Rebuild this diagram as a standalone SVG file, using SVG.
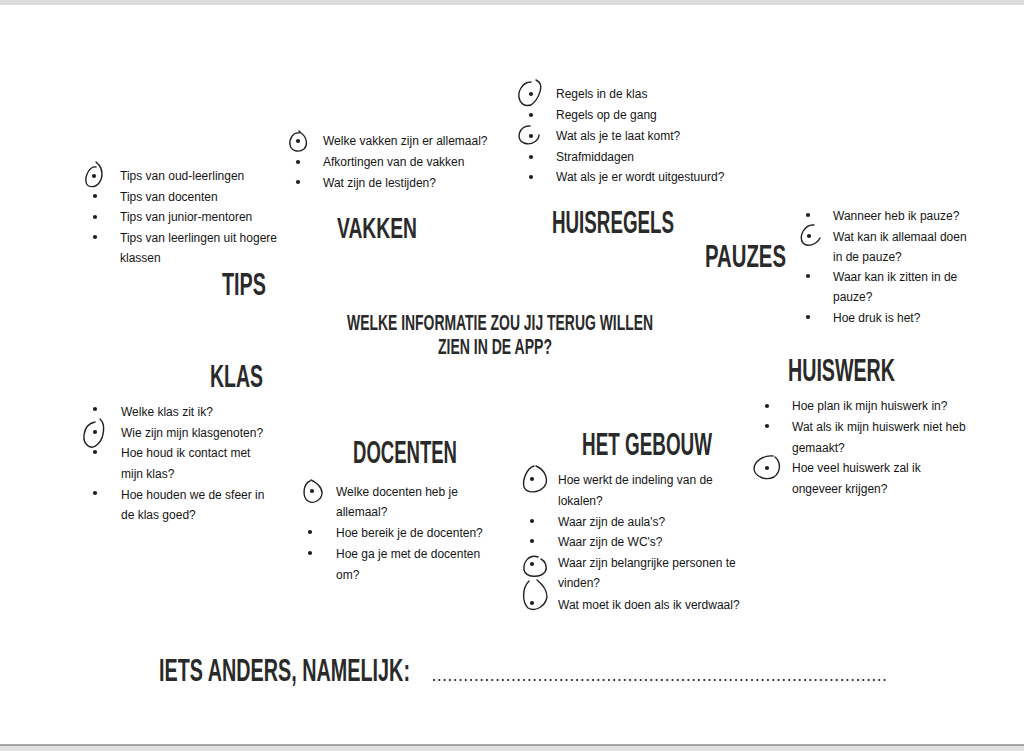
<svg xmlns="http://www.w3.org/2000/svg" width="1024" height="751" viewBox="0 0 1024 751">
<style>
.t{font-family:"Liberation Sans",Arial,Helvetica,sans-serif;font-size:12px;fill:#151515}
.h{font-family:"Liberation Sans",Arial,Helvetica,sans-serif;font-weight:bold;font-size:32px;fill:#2a2a2a}
.q{font-family:"Liberation Sans",Arial,Helvetica,sans-serif;font-weight:bold;font-size:22px;fill:#2a2a2a}
.ring{fill:none;stroke:#222;stroke-width:1.4;stroke-linecap:round}
.b{fill:#1f1f1f}
</style>
<defs>
<circle id="dot" r="2.1"/>
</defs>
<rect x="0" y="0" width="1024" height="751" fill="#ffffff"/>
<rect x="0" y="0" width="1024" height="5" fill="#dcdcdc"/>
<rect x="0" y="745.5" width="1024" height="5.5" fill="#e2e2e2"/>
<line x1="0" y1="745" x2="1024" y2="745" stroke="#555" stroke-width="1.2"/>
<g id="connectors"/>

<g id="question">
<text class="q" x="347" y="330" textLength="306" lengthAdjust="spacingAndGlyphs">WELKE INFORMATIE ZOU JIJ TERUG WILLEN</text>
<text class="q" x="438" y="354" textLength="114" lengthAdjust="spacingAndGlyphs">ZIEN IN DE APP?</text>
</g>

<g id="tips">
<text class="h" x="222" y="295" textLength="44" lengthAdjust="spacingAndGlyphs">TIPS</text>
<path class="ring" d="M96,167 C90,166 85,175 86,182 C87,188 95,188 99,183 C103,178 103,170 99,165 L96,162"/>
<use href="#dot" class="b" x="94" y="176"/>
<use href="#dot" class="b" x="95" y="196"/>
<use href="#dot" class="b" x="95" y="217"/>
<use href="#dot" class="b" x="95" y="237"/>
<text class="t" x="120" y="180">Tips van oud-leerlingen</text>
<text class="t" x="120" y="200.5">Tips van docenten</text>
<text class="t" x="120" y="221">Tips van junior-mentoren</text>
<text class="t" x="120" y="241.5">Tips van leerlingen uit hogere</text>
<text class="t" x="120" y="262">klassen</text>
</g>

<g id="vakken">
<text class="h" x="337" y="238" textLength="80" lengthAdjust="spacingAndGlyphs" style="font-size:29px">VAKKEN</text>
<path class="ring" d="M299,133 C293,132 289,139 290,145 C291,151 299,153 304,149 C308,145 307,137 301,133 L299,131"/>
<use href="#dot" class="b" x="298" y="141"/>
<use href="#dot" class="b" x="298" y="162"/>
<use href="#dot" class="b" x="298" y="182"/>
<text class="t" x="323" y="145">Welke vakken zijn er allemaal?</text>
<text class="t" x="323" y="166">Afkortingen van de vakken</text>
<text class="t" x="323" y="187">Wat zijn de lestijden?</text>
</g>

<g id="huisregels">
<text class="h" x="552" y="233" textLength="122" lengthAdjust="spacingAndGlyphs">HUISREGELS</text>
<path class="ring" d="M536,80 C546,84 538,100 531,105 C520,108 516,96 521,88 C524,83 528,82 531,82"/>
<use href="#dot" class="b" x="531" y="94"/>
<use href="#dot" class="b" x="531" y="115"/>
<path class="ring" d="M530,126 C519,125 515,140 524,143 C532,146 539,140 539,135"/>
<use href="#dot" class="b" x="531" y="136"/>
<use href="#dot" class="b" x="531" y="157"/>
<use href="#dot" class="b" x="531" y="177"/>
<text class="t" x="556" y="98">Regels in de klas</text>
<text class="t" x="556" y="119">Regels op de gang</text>
<text class="t" x="556" y="140">Wat als je te laat komt?</text>
<text class="t" x="556" y="161">Strafmiddagen</text>
<text class="t" x="556" y="181">Wat als je er wordt uitgestuurd?</text>
</g>

<g id="pauzes">
<text class="h" x="705" y="267" textLength="81" lengthAdjust="spacingAndGlyphs">PAUZES</text>
<use href="#dot" class="b" x="808" y="215"/>
<path class="ring" d="M814,225 C805,224 798,236 803,243 C808,248 817,244 820,238"/>
<use href="#dot" class="b" x="809" y="236"/>
<use href="#dot" class="b" x="808" y="276"/>
<use href="#dot" class="b" x="808" y="317"/>
<text class="t" x="833" y="220">Wanneer heb ik pauze?</text>
<text class="t" x="833" y="241">Wat kan ik allemaal doen</text>
<text class="t" x="833" y="261">in de pauze?</text>
<text class="t" x="833" y="281">Waar kan ik zitten in de</text>
<text class="t" x="833" y="301">pauze?</text>
<text class="t" x="833" y="322">Hoe druk is het?</text>
</g>

<g id="klas">
<text class="h" x="210" y="387" textLength="53" lengthAdjust="spacingAndGlyphs">KLAS</text>
<use href="#dot" class="b" x="95" y="409"/>
<path class="ring" d="M100,419 C106,424 104,438 98,444 C91,451 83,445 84,435 C85,427 90,423 95,422"/>
<use href="#dot" class="b" x="95" y="432"/>
<use href="#dot" class="b" x="95" y="452"/>
<use href="#dot" class="b" x="95" y="493"/>
<text class="t" x="121" y="416">Welke klas zit ik?</text>
<text class="t" x="121" y="437">Wie zijn mijn klasgenoten?</text>
<text class="t" x="121" y="457">Hoe houd ik contact met</text>
<text class="t" x="121" y="478">mijn klas?</text>
<text class="t" x="121" y="499">Hoe houden we de sfeer in</text>
<text class="t" x="121" y="519">de klas goed?</text>
</g>

<g id="docenten">
<text class="h" x="353" y="463" textLength="104" lengthAdjust="spacingAndGlyphs">DOCENTEN</text>
<path class="ring" d="M310,481 C303,484 302,497 308,501 C314,505 322,499 322,493 C322,487 316,482 311,480"/>
<use href="#dot" class="b" x="312" y="491"/>
<use href="#dot" class="b" x="310" y="532"/>
<use href="#dot" class="b" x="310" y="553"/>
<text class="t" x="336" y="496">Welke docenten heb je</text>
<text class="t" x="336" y="516">allemaal?</text>
<text class="t" x="336" y="537">Hoe bereik je de docenten?</text>
<text class="t" x="336" y="558">Hoe ga je met de docenten</text>
<text class="t" x="336" y="579">om?</text>
</g>

<g id="het-gebouw">
<text class="h" x="582" y="455" textLength="130" lengthAdjust="spacingAndGlyphs">HET GEBOUW</text>
<path class="ring" d="M534,466 C527,468 522,480 524,487 C527,494 538,493 544,487 C549,481 546,470 536,466"/>
<use href="#dot" class="b" x="532" y="479"/>
<use href="#dot" class="b" x="532" y="521"/>
<use href="#dot" class="b" x="532" y="541"/>
<path class="ring" d="M538,557 C529,554 523,562 524,570 C526,578 540,578 545,572 C548,567 545,561 541,559"/>
<use href="#dot" class="b" x="532" y="564"/>
<path class="ring" d="M529,581 C522,588 522,602 528,608 C535,612 545,607 547,597 C547,590 542,584 537,580"/>
<use href="#dot" class="b" x="532" y="603"/>
<text class="t" x="558" y="484">Hoe werkt de indeling van de</text>
<text class="t" x="558" y="505">lokalen?</text>
<text class="t" x="558" y="526">Waar zijn de aula's?</text>
<text class="t" x="558" y="546">Waar zijn de WC's?</text>
<text class="t" x="558" y="567">Waar zijn belangrijke personen te</text>
<text class="t" x="558" y="587">vinden?</text>
<text class="t" x="558" y="609">Wat moet ik doen als ik verdwaal?</text>
</g>

<g id="huiswerk">
<text class="h" x="788" y="381" textLength="107" lengthAdjust="spacingAndGlyphs">HUISWERK</text>
<use href="#dot" class="b" x="767" y="406"/>
<use href="#dot" class="b" x="767" y="426"/>
<path class="ring" d="M773,456 C764,455 754,461 754,469 C755,477 766,481 774,477 C781,472 781,462 775,457"/>
<use href="#dot" class="b" x="767" y="468"/>
<text class="t" x="792" y="410">Hoe plan ik mijn huiswerk in?</text>
<text class="t" x="792" y="430.5">Wat als ik mijn huiswerk niet heb</text>
<text class="t" x="792" y="451.5">gemaakt?</text>
<text class="t" x="792" y="472">Hoe veel huiswerk zal ik</text>
<text class="t" x="792" y="493">ongeveer krijgen?</text>
</g>

<g id="iets-anders">
<text class="h" x="159" y="681" textLength="251" lengthAdjust="spacingAndGlyphs">IETS ANDERS, NAMELIJK:</text>
<line x1="434" y1="680" x2="889" y2="680" stroke="#222" stroke-width="2.2" stroke-linecap="round" stroke-dasharray="0 5.3"/>
</g>
</svg>
